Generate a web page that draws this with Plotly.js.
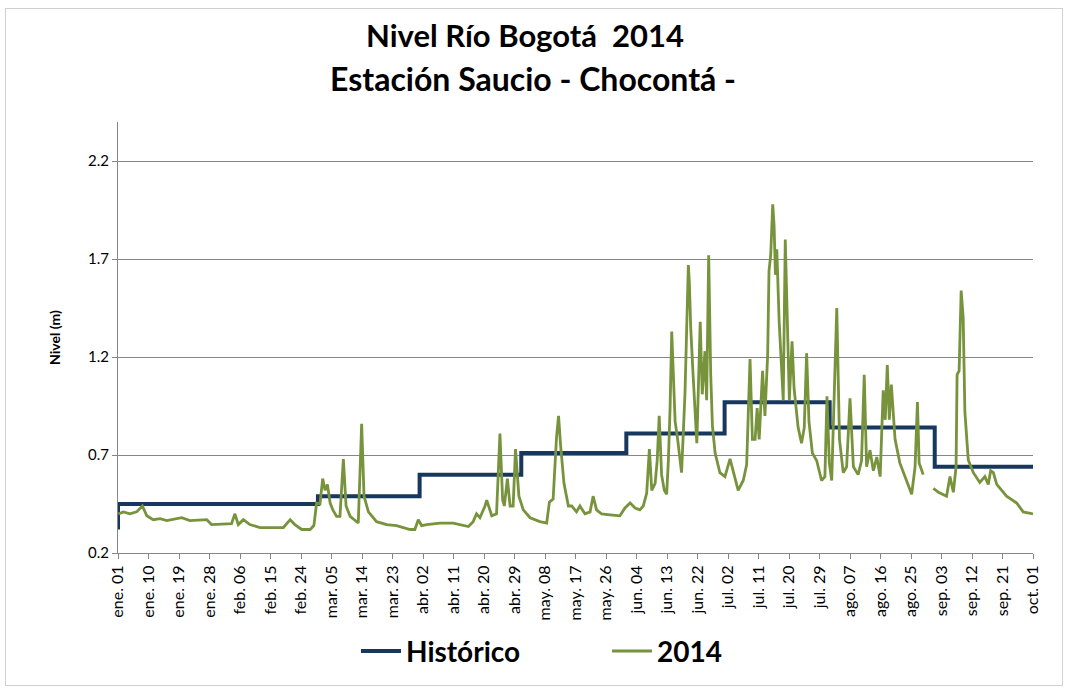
<!DOCTYPE html>
<html>
<head>
<meta charset="utf-8">
<script src="https://cdn.plot.ly/plotly-3.0.1.min.js"></script>
<style>
  html, body { margin: 0; padding: 0; background: #ffffff; }
  #wrap { position: relative; width: 1067px; height: 688px; }
  #chart { width: 1067px; height: 688px; }
  #frame { position: absolute; left: 5px; top: 8px; width: 1056px; height: 676px;
           border: 1px solid #d0d0d0; pointer-events: none; }
</style>
</head>
<body>
<div id="wrap"><div id="chart"></div><div id="frame"></div></div>
<script>
// Tick labels of the category axis (one every 9 records)
const tickLabels = ['ene. 01','ene. 10','ene. 19','ene. 28','feb. 06','feb. 15','feb. 24',
  'mar. 05','mar. 14','mar. 23','abr. 02','abr. 11','abr. 20','abr. 29','may. 08','may. 17',
  'may. 26','jun. 04','jun. 13','jun. 22','jul. 02','jul. 11','jul. 20','jul. 29','ago. 07',
  'ago. 16','ago. 25','sep. 03','sep. 12','sep. 21','oct. 01'];
const recordsPerTick = 9;

// Histórico: monthly reference level (record position where each month starts)
const histRecord = [0, 0, 59, 89, 119, 150, 179, 210, 241, 270];
const histLevel  = [0.32, 0.45, 0.49, 0.60, 0.71, 0.81, 0.97, 0.84, 0.64, 0.64];

// 2014 observed level (record position, metres)
const obsRecord = [
  0.1, 1.6, 3.5, 5.5, 7.2, 8.5, 10.4, 12.4, 14.4, 17.3,
  18.8, 21.2, 24.2, 26.2, 27.6, 31.1, 33.5, 34.5, 35.5, 37.0,
  38.9, 41.9, 45.8, 48.8, 50.8, 52.2, 54.2, 56.7, 57.8, 58.6,
  59.6, 60.4, 61.1, 61.8, 62.6, 63.4, 64.5, 65.5, 66.5, 67.3,
  68.5, 70.9, 71.9, 72.6, 73.9, 76.3, 79.3, 82.2, 86.2, 87.6,
  88.6, 89.6, 91.1, 95.0, 98.9, 101.9, 103.4, 104.8, 105.8, 106.8,
  108.3, 108.8, 110.3, 111.7, 112.7, 113.5, 114.0, 114.9, 115.7, 116.6,
  117.3, 118.3, 119.6, 121.6, 124.5, 126.5, 127.3, 128.4, 129.4, 130.0,
  130.6, 131.6, 132.9, 133.9, 135.3, 136.3, 137.8, 139.3, 140.2, 141.2,
  142.7, 145.2, 148.1, 149.6, 151.1, 152.6, 154.0, 155.0, 156.0, 156.8,
  157.5, 158.5, 159.1, 159.7, 160.4, 161.2, 161.9, 162.4, 162.9, 163.4,
  164.4, 165.0, 166.3, 167.3, 168.3, 168.6, 169.0, 169.7, 170.8, 171.8,
  172.4, 173.2, 173.7, 174.3, 174.9, 175.4, 176.2, 177.6, 179.1, 180.6,
  181.6, 183.0, 184.5, 185.5, 186.5, 187.2, 188.0, 188.6, 189.2, 190.2,
  190.9, 191.7, 192.1, 192.6, 193.2, 193.6, 194.0, 194.4, 195.1, 195.7,
  196.3, 196.9, 197.6, 198.1, 198.9, 199.5, 200.7, 201.7, 202.5, 203.2,
  203.9, 204.9, 206.2, 207.6, 208.6, 209.2, 209.9, 210.6, 212.1, 212.9,
  214.0, 215.0, 216.0, 217.0, 218.4, 219.4, 220.2, 220.9, 221.9, 222.9,
  223.9, 224.9, 225.8, 226.4, 227.0, 227.6, 228.2, 229.3, 230.7, 232.7,
  234.2, 235.2, 235.9, 236.4, 237.6, 239.0, 240.6, 242.1, 244.5, 245.5,
  246.5, 247.3, 247.6, 248.2, 248.8, 249.4, 249.9, 250.9, 252.4, 254.3,
  255.8, 256.8, 257.5, 258.3, 259.3, 262.2, 265.2, 267.1, 270.0
];
const obsLevel = [
  0.40, 0.41, 0.40, 0.41, 0.44, 0.39, 0.37, 0.375, 0.365, 0.375,
  0.38, 0.365, 0.37, 0.37, 0.345, 0.35, 0.35, 0.40, 0.345, 0.37,
  0.345, 0.33, 0.33, 0.33, 0.37, 0.345, 0.32, 0.32, 0.34, 0.455,
  0.45, 0.58, 0.52, 0.55, 0.455, 0.42, 0.387, 0.387, 0.68, 0.44,
  0.387, 0.353, 0.86, 0.49, 0.41, 0.36, 0.345, 0.34, 0.32, 0.32,
  0.37, 0.34, 0.345, 0.353, 0.353, 0.34, 0.335, 0.36, 0.40, 0.38,
  0.44, 0.47, 0.39, 0.40, 0.81, 0.47, 0.44, 0.58, 0.44, 0.44,
  0.73, 0.49, 0.42, 0.38, 0.36, 0.353, 0.46, 0.475, 0.79, 0.90,
  0.75, 0.556, 0.44, 0.44, 0.41, 0.44, 0.40, 0.41, 0.49, 0.42,
  0.40, 0.395, 0.39, 0.43, 0.455, 0.43, 0.42, 0.44, 0.505, 0.73,
  0.52, 0.555, 0.67, 0.90, 0.60, 0.52, 0.50, 0.67, 0.935, 1.33,
  0.87, 0.80, 0.61, 1.01, 1.67, 1.58, 1.35, 1.11, 0.76, 1.38,
  1.01, 1.23, 0.98, 1.72, 1.11, 0.85, 0.71, 0.61, 0.59, 0.68,
  0.61, 0.52, 0.57, 0.65, 1.19, 0.78, 0.78, 0.94, 0.78, 1.13,
  0.90, 1.21, 1.64, 1.72, 1.98, 1.87, 1.62, 1.75, 1.38, 1.21,
  0.98, 1.80, 1.25, 0.98, 1.28, 1.04, 0.84, 0.76, 0.84, 1.22,
  0.87, 0.71, 0.67, 0.57, 0.59, 1.00, 0.66, 0.57, 1.45, 0.78,
  0.61, 0.64, 0.99, 0.64, 0.60, 0.67, 1.11, 0.64, 0.725, 0.62,
  0.69, 0.59, 1.03, 0.88, 1.16, 0.88, 1.06, 0.78, 0.66, 0.57,
  0.50, 0.64, 0.97, 0.66, 0.60, null, 0.53, 0.51, 0.49, 0.59,
  0.51, 0.64, 1.11, 1.13, 1.54, 1.40, 0.92, 0.675, 0.61, 0.56,
  0.59, 0.55, 0.62, 0.61, 0.55, 0.49, 0.455, 0.41, 0.40
];

const FONT = 'Lato, Carlito, Calibri, "Liberation Sans", sans-serif';
const tickPos = tickLabels.map((_, i) => i * recordsPerTick);

const traces = [
  {
    name: 'Histórico', type: 'scatter', mode: 'lines',
    x: histRecord, y: histLevel,
    line: { color: '#17375E', width: 4, shape: 'hv' }
  },
  {
    name: '2014', type: 'scatter', mode: 'lines',
    x: obsRecord, y: obsLevel, connectgaps: false,
    line: { color: '#77933C', width: 2.8 }
  }
];

const layout = {
  width: 1067, height: 688,
  margin: { l: 118, r: 34, t: 122, b: 131 },
  paper_bgcolor: '#ffffff', plot_bgcolor: '#ffffff',
  font: { family: FONT, color: '#000000' },
  title: {
    text: 'Nivel Río Bogotá\u00a0 2014',
    font: { family: FONT, size: 31, weight: 'bold', color: '#000000' },
    x: 525 / 1067, xref: 'container', xanchor: 'center',
    y: 1 - 36 / 688, yref: 'container', yanchor: 'middle'
  },
  annotations: [{
    text: 'Estación Saucio - Chocontá -',
    font: { family: FONT, size: 32, weight: 'bold', color: '#000000' },
    xref: 'paper', yref: 'paper', x: (533 - 118) / 915, y: 1 + (122 - 78) / 435,
    xanchor: 'center', yanchor: 'middle', showarrow: false
  }],
  xaxis: {
    type: 'linear', range: [0, 270],
    tickmode: 'array', tickvals: tickPos, ticktext: tickLabels,
    tickangle: -90, tickfont: { family: FONT, size: 16, color: '#000000' },
    ticks: 'outside', ticklen: 5, tickcolor: '#868686',
    showline: true, linecolor: '#868686', linewidth: 1,
    showgrid: false, zeroline: false, fixedrange: true
  },
  yaxis: {
    range: [0.2, 2.4],
    tickmode: 'array', tickvals: [0.2, 0.7, 1.2, 1.7, 2.2], tickformat: '.1f',
    tickfont: { family: FONT, size: 15, color: '#000000' },
    ticks: 'outside', ticklen: 5, tickcolor: '#868686',
    showline: true, linecolor: '#868686', linewidth: 1,
    showgrid: true, gridcolor: '#868686', gridwidth: 1, zeroline: false,
    title: { text: 'Nivel (m)', font: { family: FONT, size: 14, weight: 'bold', color: '#000000' }, standoff: 24 },
    fixedrange: true
  },
  showlegend: true,
  legend: {
    orientation: 'h', x: (356 - 118) / 915, xanchor: 'left',
    y: -(631 - 557) / 435, yanchor: 'top',
    font: { family: FONT, size: 28, weight: 'bold', color: '#000000' },
    itemwidth: 40, entrywidth: 196, bgcolor: 'rgba(0,0,0,0)', borderwidth: 0
  }
};

Plotly.newPlot('chart', traces, layout, { displayModeBar: false, staticPlot: true });
</script>
</body>
</html>
